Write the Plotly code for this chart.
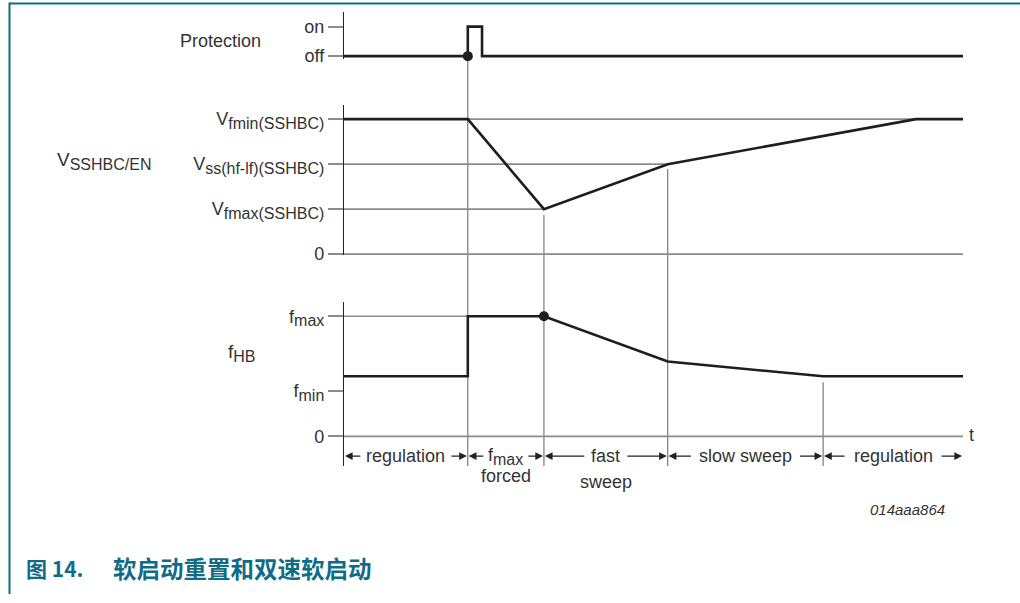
import plotly.graph_objects as go

# ---------------- data ----------------
# time axis in arbitrary units 0..100
prot_t = [0, 20.0, 20.0, 22.3, 22.3, 100]
prot_v = [0, 0, 1, 1, 0, 0]
prot_tickvals = [0, 1]
prot_ticktext = ["off", "on"]

v_t = [0, 20.0, 32.3, 52.3, 92.4, 100]
v_v = [3, 3, 1, 2, 3, 3]
v_tickvals = [0, 1, 2, 3]
SUB = '<sub><span style="font-size:16px">%s</span></sub>'
v_ticktext = ["0", "V" + SUB % "fmax(SSHBC)", "V" + SUB % "ss(hf-lf)(SSHBC)", "V" + SUB % "fmin(SSHBC)"]
v_grid_levels = [0, 1, 2, 3]
v_grid_ends = [100, 32.3, 52.3, 100]

f_t = [0, 20.0, 20.0, 32.3, 52.3, 77.4, 100]
f_v = [0.5, 0.5, 1.0, 1.0, 0.623, 0.5, 0.5]
f_tickvals = [0, 0.377, 1.0]
f_ticktext = ["0", "f" + SUB % "min", "f" + SUB % "max"]
f_grid_levels = [0, 1.0]
f_grid_ends = [100, 32.3]

event_dots_prot = ([20.0], [0])
event_dots_f = ([32.3], [1.0])

guide_t = [20.0, 32.3, 52.3, 77.4]
guide_top = [("y", 0), ("y2", 0.87), ("y2", 1.89), ("y3", 0.45)]
guide_bottom = ("y3", -0.246)

phase_bounds = [0, 20.0, 32.3, 52.3, 77.4, 100]
phase_line1 = ["regulation", "f" + SUB % "max", "fast", "slow sweep", "regulation"]
phase_line2 = ["", "forced", "sweep", "", ""]
phase_halfwidth_px = [44, 21, 20, 53, 47]

# ---------------- layout geometry ----------------
W, H = 1020, 603
def py(px):
    return 1 - px / H

x_dom = [344 / W, 963 / W]
x_rng = [0, 100]
px_per_t = (963 - 344) / 100

axes = {
    "y": dict(domain=[py(60), py(12)], range=[-0.1, 1.5]),
    "y2": dict(domain=[py(259), py(107)], range=[-0.022, 3.306]),
    "y3": dict(domain=[py(473), py(307)], range=[-0.246, 1.115]),
}

def to_paper(ax, val):
    d = axes[ax]["domain"]; r = axes[ax]["range"]
    return d[0] + (val - r[0]) / (r[1] - r[0]) * (d[1] - d[0])

FONT = "Liberation Sans, Arial, sans-serif"
TXT = "#333333"
SIG = "#1e1e1e"
GRID = "#8c8c8c"

fig = go.Figure()

# grid segments
for lv, e in zip(v_grid_levels, v_grid_ends):
    fig.add_trace(go.Scatter(x=[0, e], y=[lv, lv], xaxis="x", yaxis="y2", mode="lines",
                             line=dict(color=GRID, width=1.6), hoverinfo="skip"))
for lv, e in zip(f_grid_levels, f_grid_ends):
    fig.add_trace(go.Scatter(x=[0, e], y=[lv, lv], xaxis="x", yaxis="y3", mode="lines",
                             line=dict(color=GRID, width=1.6), hoverinfo="skip"))

# signals
fig.add_trace(go.Scatter(x=prot_t, y=prot_v, xaxis="x", yaxis="y", mode="lines",
                         line=dict(color=SIG, width=2.6), hoverinfo="skip"))
fig.add_trace(go.Scatter(x=v_t, y=v_v, xaxis="x", yaxis="y2", mode="lines",
                         line=dict(color=SIG, width=2.6), hoverinfo="skip"))
fig.add_trace(go.Scatter(x=f_t, y=f_v, xaxis="x", yaxis="y3", mode="lines",
                         line=dict(color=SIG, width=2.6), hoverinfo="skip"))
fig.add_trace(go.Scatter(x=event_dots_prot[0], y=event_dots_prot[1], xaxis="x", yaxis="y",
                         mode="markers", marker=dict(color=SIG, size=10), cliponaxis=False,
                         hoverinfo="skip"))
fig.add_trace(go.Scatter(x=event_dots_f[0], y=event_dots_f[1], xaxis="x", yaxis="y3",
                         mode="markers", marker=dict(color=SIG, size=10), cliponaxis=False,
                         hoverinfo="skip"))

shapes = []
for t, (ax, top) in zip(guide_t, guide_top):
    shapes.append(dict(type="line", xref="x", yref="paper", x0=t, x1=t,
                       y0=to_paper(ax, top), y1=to_paper(*guide_bottom),
                       line=dict(color="#6e6e6e", width=1.1), layer="below"))
# frame (left and top teal rule)
TEAL = "#0f6c87"
shapes.append(dict(type="line", xref="paper", yref="paper", x0=9.5 / W, x1=9.5 / W,
                   y0=0, y1=py(2.5), line=dict(color=TEAL, width=2)))
shapes.append(dict(type="line", xref="paper", yref="paper", x0=9.5 / W, x1=1,
                   y0=py(3.5), y1=py(3.5), line=dict(color=TEAL, width=2)))

ann = []
# phase brackets
y_br = -0.164
for i in range(len(phase_line1)):
    a, b = phase_bounds[i], phase_bounds[i + 1]
    c = (a + b) / 2
    hw = phase_halfwidth_px[i] / px_per_t
    for head, tail in ((a + 0.15, c - hw), (b - 0.15, c + hw)):
        ann.append(dict(x=head, y=y_br, xref="x", yref="y3", ax=tail, ay=y_br,
                        axref="x", ayref="y3", text="", showarrow=True,
                        arrowhead=2, arrowsize=1.4, arrowwidth=1.1, arrowcolor="#222",
                        standoff=0, startstandoff=0))
    ann.append(dict(x=c, y=y_br, xref="x", yref="y3", text=phase_line1[i], showarrow=False,
                    font=dict(family=FONT, size=18, color=TXT), xanchor="center", yanchor="middle"))
    if phase_line2[i]:
        dy = 20 if i == 1 else 26
        ann.append(dict(x=c, y=y_br, xref="x", yref="y3", yshift=-dy, text=phase_line2[i],
                        showarrow=False, font=dict(family=FONT, size=18, color=TXT),
                        xanchor="center", yanchor="middle"))

# 't' axis label
ann.append(dict(x=100, y=0, xref="x", yref="y3", text="t", showarrow=False, xanchor="left",
                xshift=4, yshift=1, font=dict(family=FONT, size=18, color=TXT), yanchor="middle"))

# panel labels
ann.append(dict(x=220 / W, y=py(42), xref="paper", yref="paper", text="Protection",
                showarrow=False, xanchor="center", yanchor="middle",
                font=dict(family=FONT, size=18, color=TXT)))
ann.append(dict(x=55 / W, y=py(163), xref="paper", yref="paper", text="V" + SUB % "SSHBC/EN",
                showarrow=False, xanchor="left", yanchor="middle",
                font=dict(family=FONT, size=19, color=TXT)))
ann.append(dict(x=226 / W, y=py(358), xref="paper", yref="paper", text="f" + SUB % "HB",
                showarrow=False, xanchor="left", yanchor="middle",
                font=dict(family=FONT, size=19, color=TXT)))

# figure id
ann.append(dict(x=947 / W, y=py(517), xref="paper", yref="paper", text="014aaa864",
                showarrow=False, xanchor="right", yanchor="middle",
                font=dict(family=FONT, size=15, color=TXT, style="italic")))

# caption
ann.append(dict(x=24 / W, y=py(577), xref="paper", yref="paper", text="<b>图 14.</b>",
                showarrow=False, xanchor="left", yanchor="middle",
                font=dict(family="Noto Sans CJK SC, Liberation Sans", size=21, color=TEAL)))
ann.append(dict(x=111 / W, y=py(577), xref="paper", yref="paper", text="<b>软启动重置和双速软启动</b>",
                showarrow=False, xanchor="left", yanchor="middle",
                font=dict(family="Noto Sans CJK SC", size=23.5, color=TEAL)))

yax_common = dict(showline=True, linecolor="#222", linewidth=1.2, ticks="outside", ticklen=15,
                  tickcolor="#8c8c8c", tickwidth=1.5, showgrid=False, zeroline=False,
                  tickfont=dict(family=FONT, size=18, color=TXT), anchor="x", fixedrange=True)

fig.update_layout(
    width=W, height=H, autosize=False, margin=dict(l=0, r=0, t=0, b=0, pad=0),
    paper_bgcolor="white", plot_bgcolor="white", showlegend=False,
    xaxis=dict(domain=x_dom, range=x_rng, visible=False, anchor="y3", fixedrange=True),
    yaxis=dict(**axes["y"], tickvals=prot_tickvals, ticktext=prot_ticktext, **yax_common),
    yaxis2=dict(**axes["y2"], tickvals=v_tickvals, ticktext=v_ticktext, **yax_common),
    yaxis3=dict(**axes["y3"], tickvals=f_tickvals, ticktext=f_ticktext, **yax_common),
    shapes=shapes, annotations=ann,
)

fig.write_html("out.html", config={"displayModeBar": False, "responsive": False},
               default_width="1020px", default_height="603px",
               post_script="document.body.style.margin='0px';document.body.style.overflow='hidden';")
